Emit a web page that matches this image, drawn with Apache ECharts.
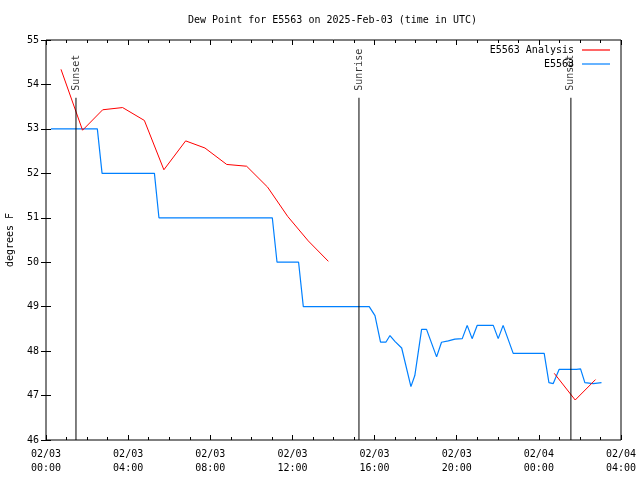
<!DOCTYPE html>
<html>
<head>
<meta charset="utf-8">
<script src="https://cdn.jsdelivr.net/npm/echarts@6/dist/echarts.min.js"></script>
<style>html,body{margin:0;padding:0;background:#fff}#c{width:640px;height:480px}</style>
</head>
<body>
<div id="c"></div>
<script>
// hours since 2025-02-03 00:00 UTC
const analysisHours = [0.73,1.78,2.76,3.73,4.79,5.74,6.80,7.74,8.80,9.77,10.79,11.77,12.77,13.75,null,24.75,25.77,26.76];
const analysisValues = [54.34,52.97,53.43,53.48,53.19,52.08,52.73,52.57,52.20,52.16,51.69,51.03,50.48,50.02,null,47.50,46.90,47.36];

const obsHours = [0.24,2.50,2.73,5.28,5.50,11.02,11.25,12.30,12.53,15.74,16.02,16.29,16.55,16.75,16.99,17.32,17.77,17.96,18.29,18.53,19.02,19.26,19.59,19.91,20.27,20.51,20.75,21.00,21.78,22.02,22.26,22.75,24.26,24.49,24.70,24.99,25.83,26.03,26.24,26.65,27.05];
const obsValues = [53,53,52,52,51,51,50,50,49,49,48.80,48.20,48.20,48.35,48.22,48.07,47.20,47.45,48.49,48.49,47.87,48.20,48.23,48.27,48.28,48.58,48.28,48.58,48.58,48.28,48.58,47.95,47.95,47.29,47.27,47.59,47.59,47.60,47.29,47.27,47.29];

const sunNames = ['Sunset','Sunrise','Sunset'];
const sunHours = [1.46,15.24,25.56];
const sunLineTop = 53.7;

const yMin = 46, yMax = 55;

const FONT = 'DejaVu Sans Mono';

function pair(hs, vs){ return hs.map((h,i)=> h===null ? [null,null] : [h, vs[i]]); }

function xLabel(h){
  const day = 3 + Math.floor(h/24);
  const hr = h % 24;
  const dd = day < 10 ? '0'+day : ''+day;
  const hh = hr < 10 ? '0'+hr : ''+hr;
  return '02/' + dd + '\n' + hh + ':00';
}

const series = [
  {name:'E5563 Analysis', type:'line', data: pair(analysisHours, analysisValues), symbol:'none', connectNulls:false,
   lineStyle:{color:'#ff0000', width:1}, itemStyle:{color:'#ff0000'}, z:3, animation:false},
  {name:'E5563', type:'line', data: pair(obsHours, obsValues), symbol:'none',
   lineStyle:{color:'#0080ff', width:1.2}, itemStyle:{color:'#0080ff'}, z:2, animation:false}
];
sunHours.forEach((h,i)=>{
  series.push({name:'sun'+i, type:'line', data:[[h,yMin],[h,sunLineTop]], symbol:'none',
    lineStyle:{color:'#000', width:1}, z:4, animation:false, silent:true});
});
series.push({name:'sunlabels', type:'scatter', symbolSize:0, animation:false, silent:true,
  data: sunHours.map((h,i)=>({value:[h,sunLineTop], name:sunNames[i]})),
  label:{show:true, formatter:'{b}', rotate:90, position:'top', distance:6, align:'left', verticalAlign:'middle',
    offset:[1,0], fontFamily:FONT, fontSize:10, color:'#000'}});

const legendCommon = {align:'right', icon:'rect', itemWidth:28, itemHeight:1.2, itemGap:0,
  textStyle:{fontFamily:FONT, fontSize:10, color:'#000', padding:[0,3,0,0]}};

const chart = echarts.init(document.getElementById('c'), null, {renderer:'canvas'});
chart.setOption({
  animation:false,
  backgroundColor:'#fff',
  title:{text:'Dew Point for E5563 on 2025-Feb-03 (time in UTC)', left:183, top:10,
    textStyle:{fontFamily:FONT, fontSize:10, fontWeight:'normal', color:'#000'}},
  legend:[
    Object.assign({data:['E5563 Analysis'], right:25, top:40}, legendCommon),
    Object.assign({data:['E5563'], right:25, top:54}, legendCommon)
  ],
  grid:{left:46, right:19, top:40, bottom:40, show:true, borderColor:'#000', borderWidth:1,
    backgroundColor:'transparent', containLabel:false, outerBoundsMode:'none'},
  xAxis:[
    {type:'value', min:0, max:28, interval:4, position:'bottom',
     axisLine:{show:false}, splitLine:{show:false},
     axisTick:{show:true, inside:true, length:5, lineStyle:{color:'#000'}},
     minorTick:{show:true, splitNumber:4, length:3, lineStyle:{color:'#000'}},
     axisLabel:{formatter:xLabel, fontFamily:FONT, fontSize:10, color:'#000', lineHeight:14, margin:7, showMinLabel:true, showMaxLabel:true}},
    {type:'value', min:0, max:28, interval:4, position:'top',
     axisLine:{show:false}, splitLine:{show:false},
     axisTick:{show:true, inside:true, length:5, lineStyle:{color:'#000'}},
     minorTick:{show:true, splitNumber:4, length:3, lineStyle:{color:'#000'}},
     axisLabel:{show:false}}
  ],
  yAxis:[
    {type:'value', min:yMin, max:yMax, interval:1, position:'left',
     name:'degrees F', nameLocation:'middle', nameGap:31,
     nameTextStyle:{fontFamily:FONT, fontSize:10, color:'#000'},
     axisLine:{show:false}, splitLine:{show:false},
     axisTick:{show:true, inside:true, length:5, lineStyle:{color:'#000'}},
     axisLabel:{fontFamily:FONT, fontSize:10, color:'#000', margin:7}},
    {type:'value', min:yMin, max:yMax, interval:1, position:'right',
     axisLine:{show:false}, splitLine:{show:false},
     axisTick:{show:true, inside:true, length:5, lineStyle:{color:'#000'}},
     axisLabel:{show:false}}
  ],
  series: series
});
</script>
</body>
</html>
